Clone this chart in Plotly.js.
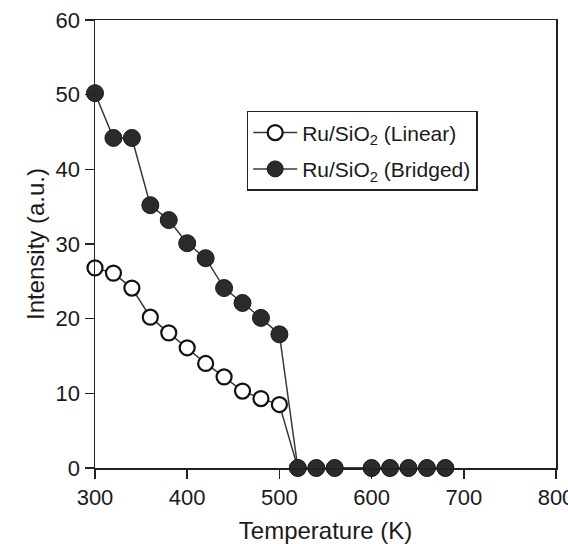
<!DOCTYPE html>
<html>
<head>
<meta charset="utf-8">
<script src="https://cdn.plot.ly/plotly-3.0.1.min.js"></script>
<style>html,body{margin:0;padding:0;background:#fff;}#chart{width:568px;height:544px;}</style>
</head>
<body>
<div id="chart"></div>
<script>
const temperature = [300, 320, 340, 360, 380, 400, 420, 440, 460, 480, 500, 520, 540, 560, 600, 620, 640, 660, 680];
const linearIntensity = [26.8, 26.1, 24.1, 20.2, 18.1, 16.1, 14.0, 12.2, 10.3, 9.3, 8.5, 0, 0, 0, 0, 0, 0, 0, 0];
const bridgedIntensity = [50.2, 44.2, 44.2, 35.2, 33.2, 30.1, 28.1, 24.1, 22.1, 20.1, 17.9, 0, 0, 0, 0, 0, 0, 0, 0];
const seriesNames = ['Ru/SiO<sub>2</sub> (Linear)', 'Ru/SiO<sub>2</sub> (Bridged)'];
const xTicks = [300, 400, 500, 600, 700, 800];
const yTicks = [0, 10, 20, 30, 40, 50, 60];

const font = 'Liberation Sans, Arial, sans-serif';
const traces = [
  {
    x: temperature, y: linearIntensity, name: seriesNames[0], legendgroup: 'lin',
    mode: 'lines+markers', type: 'scatter', cliponaxis: false,
    line: {color: '#383838', width: 1.5},
    marker: {symbol: 'circle', size: 15, color: '#ffffff', line: {color: '#111111', width: 2.2}}
  },
  {
    x: temperature, y: bridgedIntensity, name: seriesNames[1], legendgroup: 'bri',
    mode: 'lines+markers', type: 'scatter', cliponaxis: false,
    line: {color: '#383838', width: 1.5},
    marker: {symbol: 'circle', size: 17, color: '#2b2b2b', line: {color: '#1a1a1a', width: 1}}
  }
];
const axisCommon = {
  showgrid: false, zeroline: false, showline: true, mirror: true,
  linecolor: '#222', linewidth: 1.5, ticks: 'outside', ticklen: 9, tickwidth: 1.5, tickcolor: '#222',
  ticklabeloverflow: 'allow',
  tickfont: {family: font, size: 22, color: '#1a1a1a'}
};
const layout = {
  width: 568, height: 544,
  margin: {l: 95, r: 12, t: 20, b: 76},
  paper_bgcolor: '#fff', plot_bgcolor: '#fff',
  showlegend: true,
  legend: {
    x: 0.329, y: 0.797, xanchor: 'left', yanchor: 'top',
    bordercolor: '#222', borderwidth: 1.5, bgcolor: '#fff',
    font: {family: font, size: 21, color: '#1a1a1a'},
    itemwidth: 44, tracegroupgap: 6,
    entrywidth: 240, entrywidthmode: 'pixels'
  },
  xaxis: Object.assign({}, axisCommon, {
    range: [300, 800], tickvals: xTicks, ticktext: xTicks.map(String),
    title: {text: 'Temperature (K)', font: {family: font, size: 24, color: '#1a1a1a'}, standoff: 21}
  }),
  yaxis: Object.assign({}, axisCommon, {
    range: [0, 60], tickvals: yTicks, ticktext: yTicks.map(String),
    title: {text: 'Intensity (a.u.)', font: {family: font, size: 24, color: '#1a1a1a'}, standoff: 4}
  })
};
Plotly.newPlot('chart', traces, layout, {displayModeBar: false, staticPlot: true});
</script>
</body>
</html>
